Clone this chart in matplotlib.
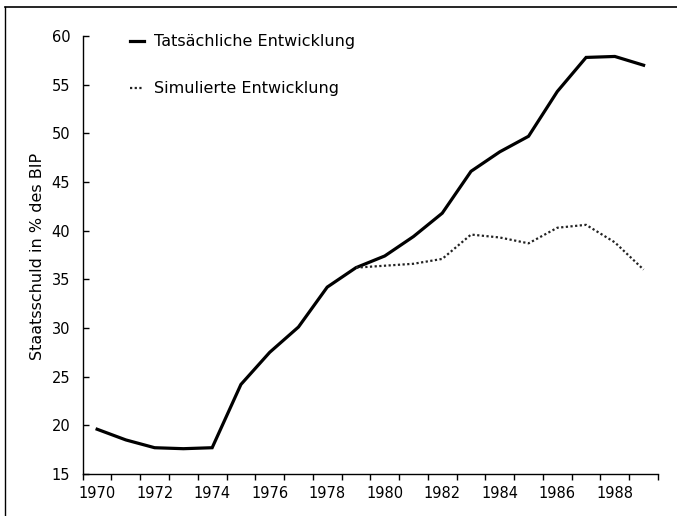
import matplotlib
matplotlib.use("Agg")
import matplotlib.pyplot as plt
from matplotlib.lines import Line2D
import numpy as np

years = list(range(1970, 1990))
actual = [19.6, 18.5, 17.7, 17.6, 17.7, 24.2, 27.5, 30.1, 34.2, 36.2,
          37.4, 39.4, 41.8, 46.1, 48.1, 49.7, 54.3, 57.8, 57.9, 57.0]
sim_years = list(range(1979, 1990))
simulated = [36.2, 36.4, 36.6, 37.1, 39.6, 39.3, 38.7, 40.3, 40.6, 38.8, 36.0]

labels = ['Tatsächliche Entwicklung', 'Simulierte Entwicklung']
ylab = 'Staatsschuld in % des BIP'

plt.rcParams['font.family'] = ['DejaVu Sans']

fig = plt.figure(figsize=(6.77, 5.16), dpi=100)
ax = fig.add_axes([0.1222, 0.0814, 0.8497, 0.8488])

ax.plot(years, actual, color='black', lw=2.3, label=labels[0], solid_joinstyle='miter')
ax.plot(sim_years, simulated, color='#222222', lw=1.6, ls=(0, (1, 1.1)), label=labels[1])

ax.set_xlim(1969.5, 1989.5)
ax.set_ylim(15, 60)

ax.spines['top'].set_visible(False)
ax.spines['right'].set_visible(False)
for s in ['left', 'bottom']:
    ax.spines[s].set_linewidth(1.0)

ax.set_xticks(range(1970, 1989, 2))
ax.set_xticks(np.arange(1969.5, 1990, 1), minor=True)
ax.tick_params(axis='x', which='major', length=0, pad=9, labelsize=10.5)
ax.tick_params(axis='x', which='minor', direction='out', length=4, width=1)
ax.set_yticks(range(15, 61, 5))
ax.tick_params(axis='y', direction='in', length=4, width=1, pad=9, labelsize=10.5)

fig.text(38 / 677, 1 - 256 / 516, ylab, rotation=90, ha='center', va='center', fontsize=11.5)

ax.legend(loc='upper left', bbox_to_anchor=(0.082, 1.004), frameon=False,
          handlelength=0.9, handletextpad=0.6, labelspacing=2.0,
          borderpad=0, borderaxespad=0, fontsize=11.5)

# scanned page border
fig.add_artist(Line2D([5 / 677, 1], [1 - 7 / 516, 1 - 7 / 516], color='black', lw=1.2))
fig.add_artist(Line2D([5 / 677, 5 / 677], [0, 1 - 7 / 516], color='black', lw=1.0))

fig.savefig('out.png', dpi=100)
